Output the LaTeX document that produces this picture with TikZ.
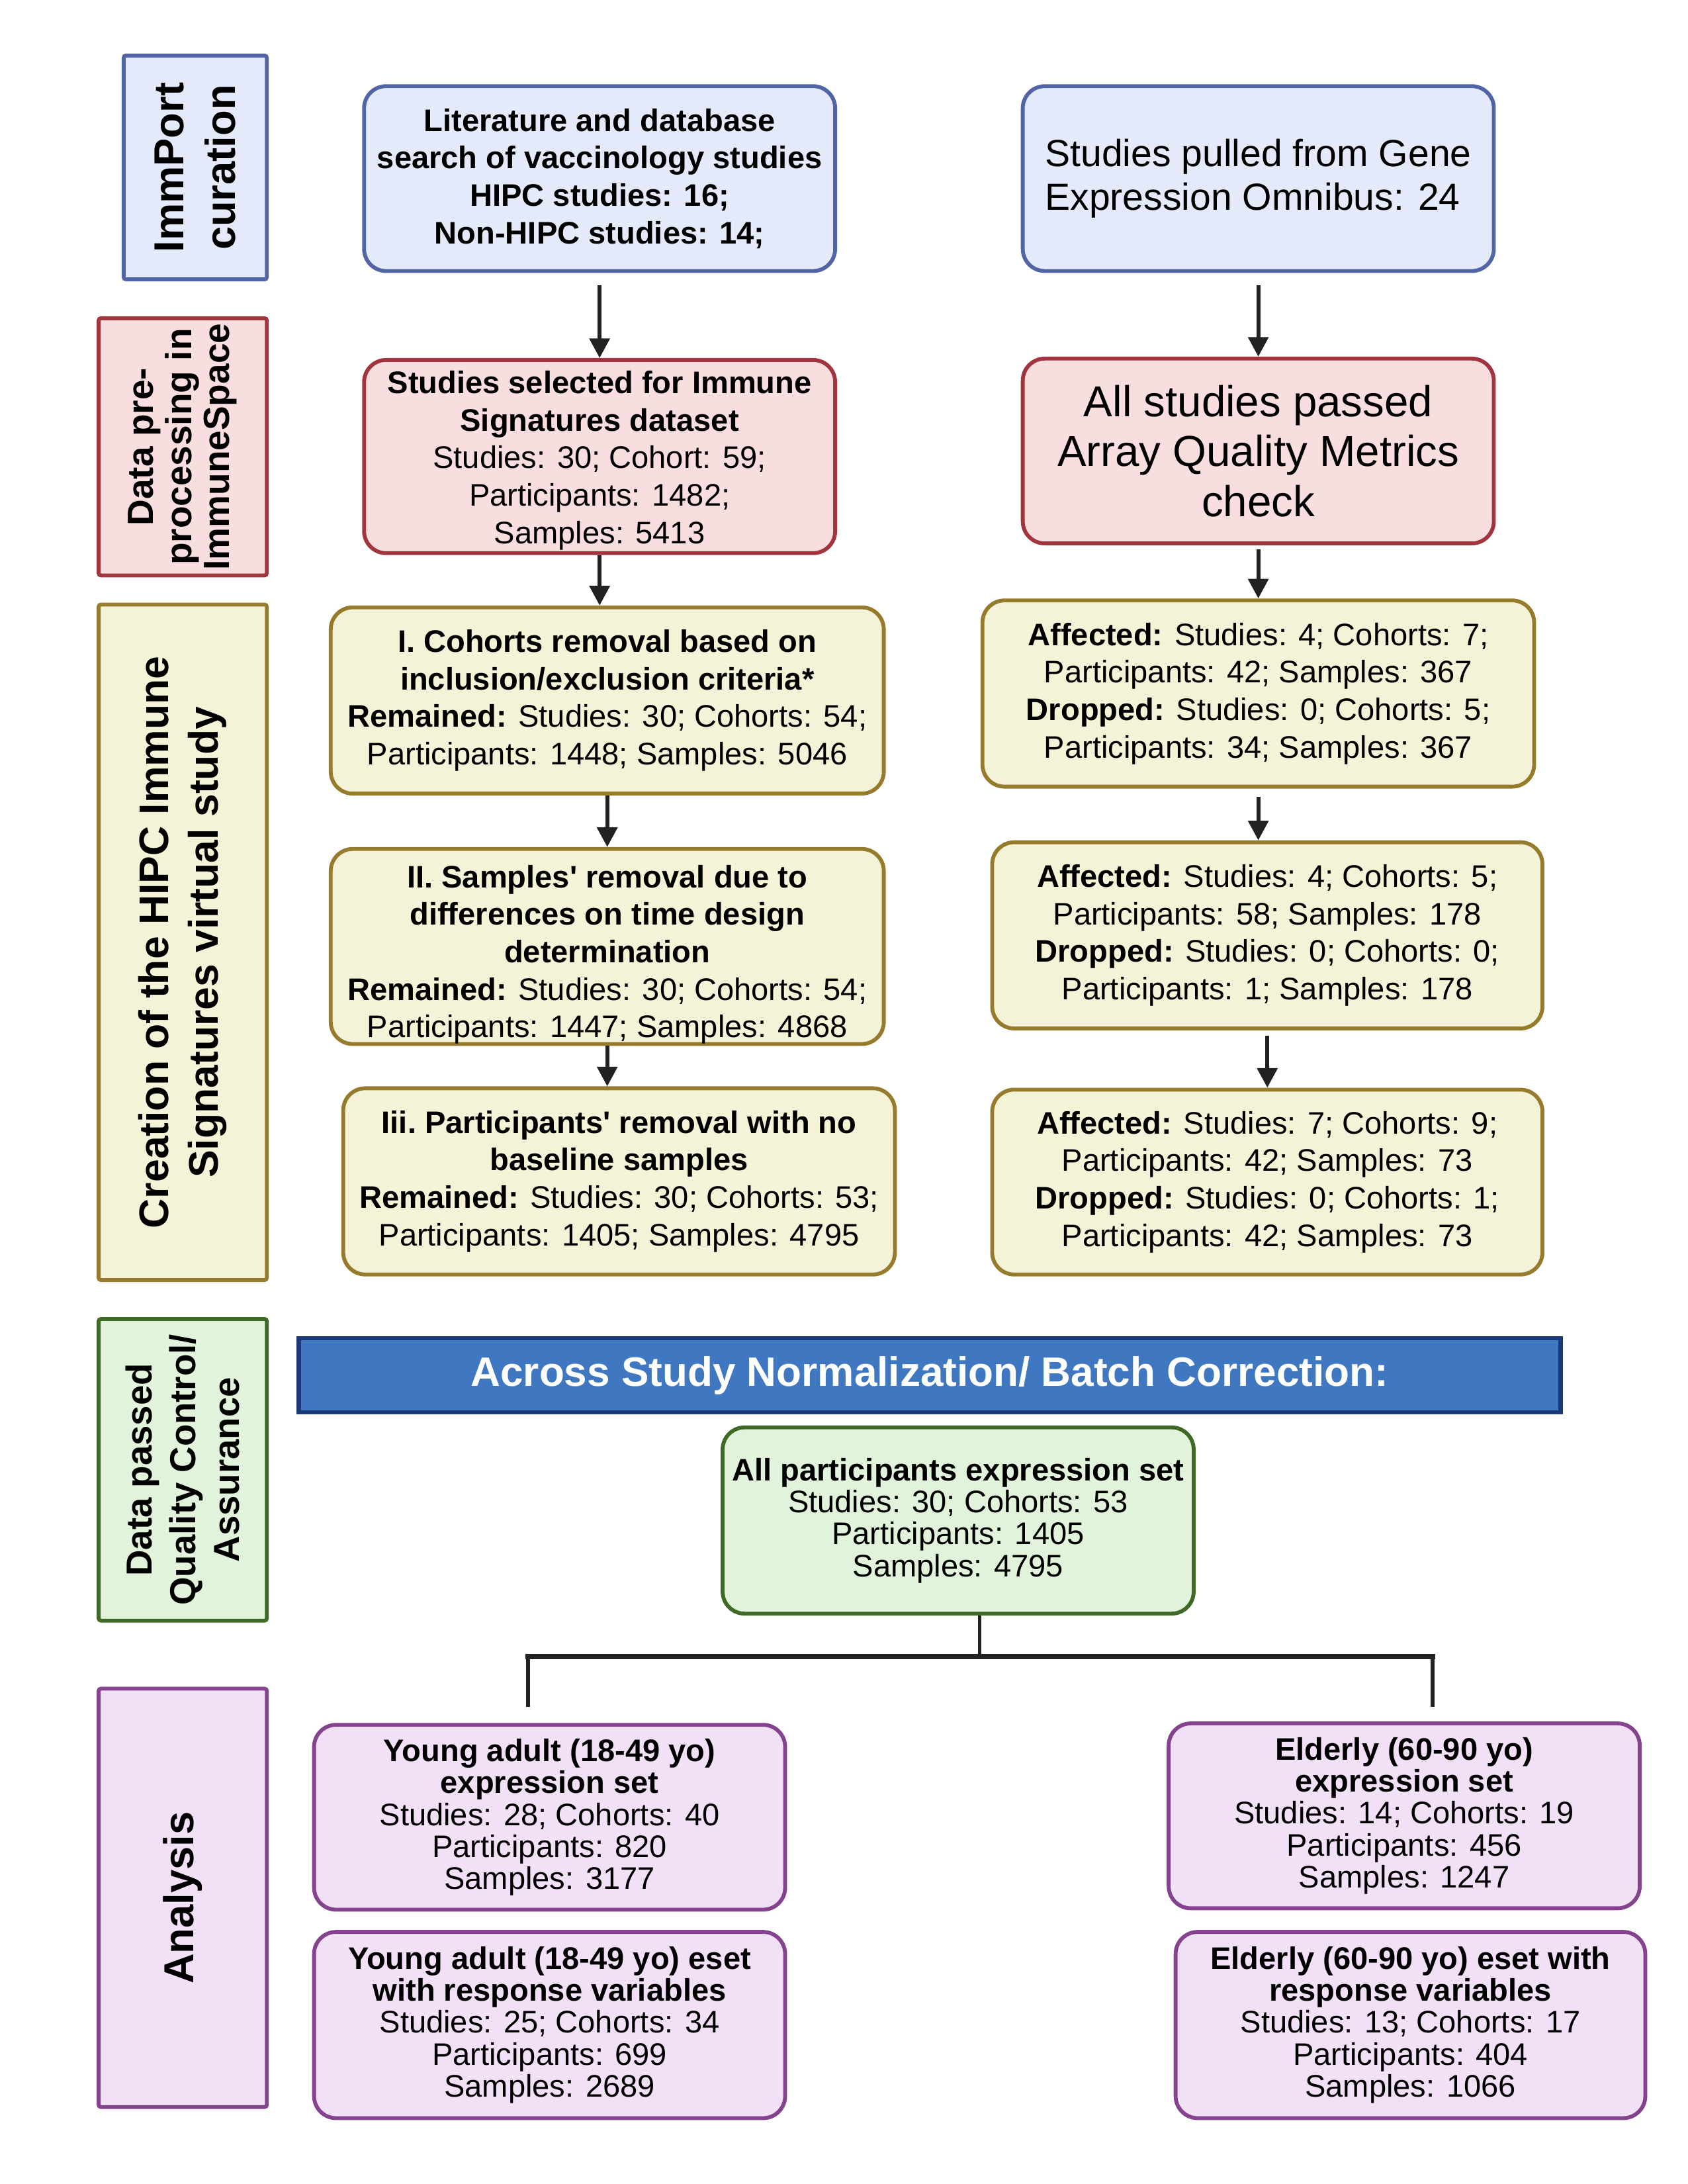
\documentclass[tikz,border=0pt]{standalone}
\usepackage{fontspec}
\setmainfont{Liberation Sans}
\usetikzlibrary{arrows.meta,calc}
\definecolor{bluefill}{HTML}{E4EAF9}
\definecolor{blueline}{HTML}{5064A6}
\definecolor{pinkfill}{HTML}{F9DEDF}
\definecolor{pinkline}{HTML}{A2343D}
\definecolor{yelfill}{HTML}{F5F3D7}
\definecolor{yelline}{HTML}{977B2D}
\definecolor{grnfill}{HTML}{E1F3DA}
\definecolor{grnline}{HTML}{3E6A26}
\definecolor{purfill}{HTML}{F2E0F7}
\definecolor{purline}{HTML}{85428F}
\definecolor{banfill}{HTML}{3F78C1}
\definecolor{banline}{HTML}{1B3978}
\definecolor{arrowc}{HTML}{222222}
\newcommand{\mybox}[7]{\node[#1, minimum width={(#5-#3)*0.504pt}, minimum height={(#6-#4)*0.504pt}] (#2) at ({(#3+#5)/2},{(#4+#6)/2}) {#7};}
\newcommand{\sidebox}[7]{\node[#1, minimum width={(#6-#4)*0.504pt}, minimum height={(#5-#3)*0.504pt}] (#2) at ({(#3+#5)/2},{(#4+#6)/2}) {#7};}
\newcommand{\q}{\textquotesingle}
\begin{document}
\begin{tikzpicture}[x=0.504pt,y=-0.504pt,
  fbox/.style={draw, rounded corners=8pt, line width=1.4pt, align=center, inner sep=0pt},
  bluebox/.style={fbox, fill=bluefill, draw=blueline},
  pinkbox/.style={fbox, fill=pinkfill, draw=pinkline},
  yelbox/.style={fbox, fill=yelfill, draw=yelline},
  grnbox/.style={fbox, fill=grnfill, draw=grnline},
  purbox/.style={fbox, fill=purfill, draw=purline},
  txt/.style={font=\fontsize{11.3}{13.6}\selectfont},
  txts/.style={font=\fontsize{11.3}{11.6}\selectfont},
  side/.style={draw, line width=1.4pt, rounded corners=0.8pt, rotate=90, align=center, inner sep=0pt},
  arr/.style={draw=arrowc, line width=1.45pt, -{Triangle[width=7.2pt,length=7.1pt]}},
  conn/.style={draw=arrowc, line width=1.1pt},
  connh/.style={draw=arrowc, line width=2pt},
  connv/.style={draw=arrowc, line width=1.4pt}
]
\useasboundingbox (0,0) rectangle (1214.3,1571.4);

% side labels
\sidebox{side, fill=bluefill, draw=blueline, font=\fontsize{15.2}{18.5}\selectfont\bfseries}{s1}{89}{40}{192}{201}{ImmPort\\curation}
\sidebox{side, fill=pinkfill, draw=pinkline, font=\fontsize{13.2}{13.8}\selectfont\bfseries}{s2}{71}{229}{192}{414}{Data pre-\\processing in\\ImmuneSpace}
\sidebox{side, fill=yelfill, draw=yelline, font=\fontsize{15}{18}\selectfont\bfseries}{s3}{71}{435}{192}{921}{Creation of the HIPC Immune\\Signatures virtual study}
\sidebox{side, fill=grnfill, draw=grnline, font=\fontsize{13.1}{15.8}\selectfont\bfseries}{s4}{71}{949}{192}{1166}{Data passed\\Quality Control/\\Assurance}
\sidebox{side, fill=purfill, draw=purline, font=\fontsize{15.2}{18}\selectfont\bfseries}{s5}{71}{1215}{192}{1516}{Analysis}

% left column
\mybox{bluebox, txt}{lit}{262}{62}{601}{195}{\bfseries Literature and database\\\bfseries search of vaccinology studies\\\bfseries HIPC studies: 16;\\\bfseries Non-HIPC studies: 14;}
\mybox{pinkbox, txt}{sel}{262}{259}{601}{398}{\rule{0pt}{11pt}\textbf{Studies selected for Immune}\\\textbf{Signatures dataset}\\Studies: 30; Cohort: 59;\\Participants: 1482;\\Samples: 5413}
\mybox{yelbox, txt}{c1}{238}{437}{636}{571}{\textbf{I. Cohorts removal based on}\\\textbf{inclusion/exclusion criteria*}\\\textbf{Remained:} Studies: 30; Cohorts: 54;\\Participants: 1448; Samples: 5046}
\mybox{yelbox, txt}{c2}{238}{614}{636}{748}{\rule{0pt}{14pt}\textbf{II. Samples\q{} removal due to}\\\textbf{differences on time design}\\\textbf{determination}\\\textbf{Remained:} Studies: 30; Cohorts: 54;\\Participants: 1447; Samples: 4868}
\mybox{yelbox, txt}{c3}{247}{783}{644}{917}{\textbf{Iii.\ Participants\q{} removal with no}\\\textbf{baseline samples}\\\textbf{Remained:} Studies: 30; Cohorts: 53;\\Participants: 1405; Samples: 4795}

% right column
\mybox{bluebox, align=left, font=\fontsize{13.7}{15.8}\selectfont}{geo}{736}{62}{1075}{195}{Studies pulled from Gene\\Expression Omnibus: 24}
\mybox{pinkbox, font=\fontsize{15.7}{18.2}\selectfont}{aqm}{736}{258}{1075}{391}{All studies passed\\Array Quality Metrics\\check}
\mybox{yelbox, txt}{a1}{707}{432}{1104}{566}{\textbf{Affected:} Studies: 4; Cohorts: 7;\\Participants: 42; Samples: 367\\\textbf{Dropped:} Studies: 0; Cohorts: 5;\\Participants: 34; Samples: 367}
\mybox{yelbox, txt}{a2}{714}{606}{1110}{740}{\textbf{Affected:} Studies: 4; Cohorts: 5;\\Participants: 58; Samples: 178\\\textbf{Dropped:} Studies: 0; Cohorts: 0;\\Participants: 1; Samples: 178}
\mybox{yelbox, txt}{a3}{714}{784}{1110}{917}{\textbf{Affected:} Studies: 7; Cohorts: 9;\\Participants: 42; Samples: 73\\\textbf{Dropped:} Studies: 0; Cohorts: 1;\\Participants: 42; Samples: 73}

% banner
\mybox{draw=banline, fill=banfill, line width=1.5pt, inner sep=0pt, text=white, font=\fontsize{14.9}{18}\selectfont\bfseries}{ban}{215}{963}{1123}{1016}{Across Study Normalization/ Batch Correction:}

% green
\mybox{grnbox, txts}{all}{520}{1027}{859}{1161}{\textbf{All participants expression set}\\Studies: 30; Cohorts: 53\\Participants: 1405\\Samples: 4795}

% analysis
\mybox{purbox, txts}{y1}{226}{1241}{565}{1374}{\textbf{Young adult (18-49 yo)}\\\textbf{expression set}\\Studies: 28; Cohorts: 40\\Participants: 820\\Samples: 3177}
\mybox{purbox, txts}{e1}{841}{1240}{1180}{1373}{\textbf{Elderly (60-90 yo)}\\\textbf{expression set}\\Studies: 14; Cohorts: 19\\Participants: 456\\Samples: 1247}
\mybox{purbox, txts}{y2}{226}{1390}{565}{1524}{\textbf{Young adult (18-49 yo) eset}\\\textbf{with response variables}\\Studies: 25; Cohorts: 34\\Participants: 699\\Samples: 2689}
\mybox{purbox, txts}{e2}{846}{1390}{1184}{1524}{\textbf{Elderly (60-90 yo) eset with}\\\textbf{response variables}\\Studies: 13; Cohorts: 17\\Participants: 404\\Samples: 1066}

% arrows
\draw[arr, shorten <=4.5pt] (lit) -- (sel);
\draw[arr, shorten <=4.5pt] (geo) -- (aqm);
\draw[arr] (sel.south) -- (sel.south |- c1.north);
\draw[arr] (c1.south) -- (c1.south |- c2.north);
\draw[arr] (c2.south) -- (c2.south |- c3.north);
\draw[arr, shorten <=1.5pt] (aqm.south) -- (aqm.south |- a1.north);
\draw[arr, shorten <=3pt] (a1.south) -- (a1.south |- a2.north);
\draw[arr, shorten <=2pt] (a2.south) -- (a2.south |- a3.north);

% tree connector
\coordinate (gs) at ($(all.south)+(15.5,0)$);
\coordinate (split) at (705,1192);
\coordinate (lj) at (380,1192);
\coordinate (rj) at (1031,1192);
\coordinate (ld) at (380,1228);
\coordinate (rd) at (1031,1228);
\draw[conn] (gs) -- (split);
\draw[connv] (lj) -- (ld);
\draw[connv] (rj) -- (rd);
\draw[connh, line cap=rect] (lj) -- (rj);
\end{tikzpicture}
\end{document}
